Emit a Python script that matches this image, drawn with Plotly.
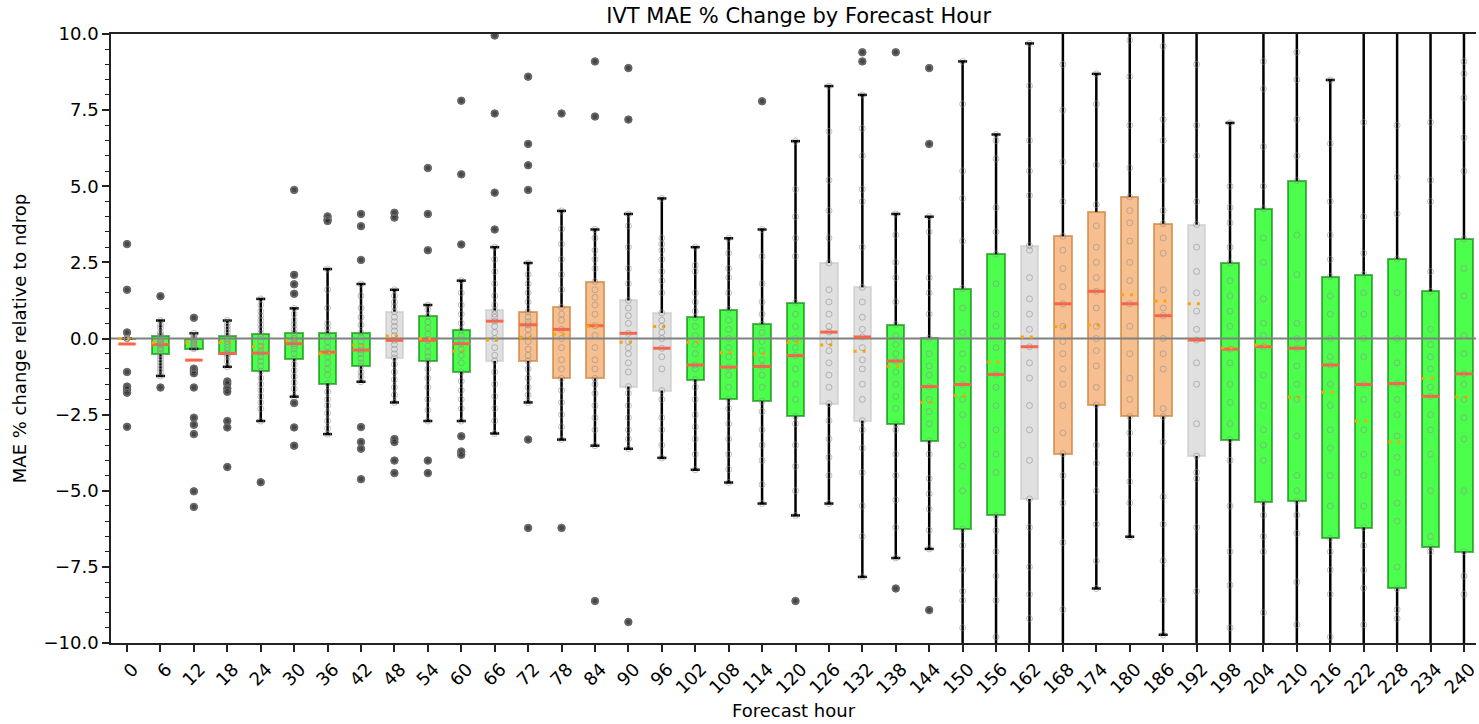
import plotly.graph_objects as go

# ---------------- data ----------------
hours = [0, 6, 12, 18, 24, 30, 36, 42, 48, 54, 60, 66, 72, 78, 84, 90, 96, 102,
         108, 114, 120, 126, 132, 138, 144, 150, 156, 162, 168, 174, 180, 186,
         192, 198, 204, 210, 216, 222, 228, 234, 240]

q1 = [0.0, -0.51, -0.34, -0.52, -1.07, -0.67, -1.48, -0.91, -0.64, -0.74, -1.10,
      -0.74, -0.74, -1.31, -1.31, -1.58, -1.71, -1.35, -1.99, -2.06, -2.55,
      -2.14, -2.70, -2.81, -3.36, -6.26, -5.81, -5.27, -3.78, -2.18, -2.56,
      -2.56, -3.86, -3.32, -5.38, -5.34, -6.56, -6.21, -8.21, -6.86, -7.00]
medians = [-0.18, -0.20, -0.71, -0.49, -0.48, -0.17, -0.45, -0.38, -0.06, -0.06,
           -0.17, 0.57, 0.45, 0.30, 0.42, 0.17, -0.32, -0.87, -0.94, -0.92, -0.56,
           0.21, 0.05, -0.74, -1.58, -1.51, -1.18, -0.27, 1.14, 1.55, 1.14, 0.75,
           -0.05, -0.35, -0.27, -0.32, -0.87, -1.51, -1.48, -1.90, -1.16]
q3 = [0.0, 0.09, -0.02, 0.09, 0.16, 0.18, 0.18, 0.19, 0.88, 0.73, 0.27, 0.92,
      0.88, 1.03, 1.87, 1.25, 0.84, 0.69, 0.95, 0.47, 1.18, 2.48, 1.68, 0.45,
      0.01, 1.64, 2.77, 3.05, 3.36, 4.16, 4.65, 3.77, 3.74, 2.48, 4.26, 5.18,
      2.03, 2.10, 2.61, 1.55, 3.27]
whisker_lo = [0.0, -1.23, -0.34, -0.93, -2.71, -1.91, -3.14, -1.42, -2.10, -2.71,
              -2.71, -3.12, -2.10, -3.32, -3.52, -3.62, -3.92, -4.31, -4.73, -5.42,
              -5.81, -5.42, -7.83, -7.21, -6.91, -11.5, -12.0, -12.0, -12.0, -8.21,
              -6.51, -9.73, -12.0, -12.0, -12.0, -12.0, -12.0, -12.0, -12.0, -12.0,
              -12.0]
whisker_hi = [0.0, 0.59, 0.17, 0.59, 1.30, 0.99, 2.28, 1.79, 1.60, 1.10, 1.90,
              3.00, 2.48, 4.19, 3.58, 4.09, 4.60, 3.00, 3.29, 3.58, 6.48, 8.29,
              8.00, 4.09, 4.00, 9.10, 6.70, 9.69, 12.0, 8.69, 11.0, 11.5, 12.0,
              7.08, 12.0, 12.0, 8.49, 12.0, 12.0, 12.0, 12.0]
means = [0.0, -0.13, -0.13, -0.13, -0.27, -0.07, -0.50, -0.21, 0.08, 0.0, -0.42,
         -0.05, 0.04, 0.14, 0.40, -0.12, 0.39, -0.12, -0.47, -0.51, -0.12, -0.21,
         -0.42, -0.91, -2.10, -1.87, -0.77, 0.05, 0.39, 0.44, 1.44, 1.23, 1.14,
         -0.30, -0.21, -1.92, -1.77, -2.71, -3.40, -1.31, -1.92]
# g = significant decrease (green), o = increase (orange), n = neutral (grey)
box_class = ['g', 'g', 'g', 'g', 'g', 'g', 'g', 'g', 'n', 'g', 'g', 'n', 'o', 'o',
             'o', 'n', 'n', 'g', 'g', 'g', 'g', 'n', 'n', 'g', 'g', 'g', 'g', 'n',
             'o', 'o', 'o', 'o', 'n', 'g', 'g', 'g', 'g', 'g', 'g', 'g', 'g']

fliers = [
    [3.1, 1.6, 0.2, -1.1, -1.58, -1.66, -1.78, -2.9],
    [1.39, -1.61],
    [0.68, -0.99, -1.07, -1.14, -1.61, -2.6, -2.83, -3.14, -5.02, -5.53],
    [-1.41, -1.49, -1.64, -1.75, -2.71, -2.92, -4.22],
    [-4.72],
    [4.88, 2.09, 1.78, 1.47, -2.12, -2.92, -3.52],
    [4.01, 3.91, 3.86],
    [4.09, 3.69, 2.58, -2.91, -3.40, -3.62, -4.62],
    [4.13, 3.97, -3.30, -3.40, -4.01, -4.42],
    [5.60, 4.09, 2.90, -4.01, -4.42],
    [7.81, 5.39, 3.09, -3.21, -3.71, -3.82],
    [9.95, 7.39, 4.79, 3.58],
    [8.60, 6.39, 5.69, 4.88, -3.32, -6.22],
    [7.39, -6.22],
    [9.10, 7.29, -8.62],
    [8.88, 7.19, -9.31],
    [],
    [],
    [],
    [7.79],
    [-8.62],
    [],
    [9.40, 9.10],
    [9.40, -8.21],
    [8.88, 6.39, -8.92],
    [], [], [], [], [], [], [], [], [], [], [], [], [], [], [], [],
]

points = [
    [0.0, 0.0, 0.0, 0.0, 0.0, 0.0],
    [0.59, 0.45, 0.35, 0.2, 0.12, 0.09, 0.05, 0.0, -0.05, -0.1, -0.15, -0.2, -0.22, -0.3, -0.35, -0.42, -0.51, -0.6, -0.7, -0.8, -0.9, -1.0, -1.1, -1.23],
    [0.17, 0.1, 0.05, 0.0, -0.02, -0.05, -0.1, -0.15, -0.2, -0.25, -0.3, -0.34],
    [0.59, 0.5, 0.4, 0.3, 0.2, 0.09, 0.0, -0.1, -0.2, -0.3, -0.4, -0.49, -0.52, -0.6, -0.75, -0.93],
    [1.3, 1.1, 0.9, 0.75, 0.6, 0.45, 0.3, 0.16, 0.05, -0.1, -0.25, -0.4, -0.48, -0.6, -0.75, -0.9, -1.07, -1.3, -1.5, -1.7, -1.9, -2.1, -2.3, -2.71],
    [0.99, 0.8, 0.6, 0.45, 0.3, 0.18, 0.1, 0.0, -0.1, -0.17, -0.25, -0.35, -0.5, -0.67, -0.85, -1.05, -1.25, -1.45, -1.65, -1.91],
    [2.28, 1.6, 1.0, 0.5, 0.35, 0.18, 0.05, -0.1, -0.3, -0.45, -0.6, -0.8, -1.0, -1.2, -1.48, -1.75, -2.0, -2.2, -2.45, -2.7, -2.95, -3.14],
    [1.79, 1.4, 1.0, 0.7, 0.45, 0.19, 0.05, -0.1, -0.25, -0.38, -0.5, -0.65, -0.8, -0.91, -1.1, -1.25, -1.42],
    [1.6, 1.4, 1.2, 1.05, 0.88, 0.7, 0.55, 0.4, 0.25, 0.1, -0.06, -0.2, -0.35, -0.5, -0.64, -0.85, -1.1, -1.35, -1.6, -1.85, -2.1],
    [1.1, 0.95, 0.73, 0.55, 0.35, 0.15, -0.06, -0.25, -0.45, -0.6, -0.74, -1.0, -1.3, -1.6, -2.0, -2.35, -2.71],
    [1.9, 1.5, 1.1, 0.8, 0.5, 0.27, 0.1, -0.05, -0.17, -0.35, -0.55, -0.8, -1.1, -1.4, -1.7, -2.0, -2.3, -2.71],
    [3.0, 2.6, 2.2, 1.8, 1.4, 1.1, 0.92, 0.8, 0.7, 0.57, 0.4, 0.2, 0.0, -0.3, -0.55, -0.74, -1.1, -1.5, -1.9, -2.3, -2.7, -3.12],
    [2.48, 2.1, 1.8, 1.5, 1.2, 0.88, 0.7, 0.55, 0.45, 0.3, 0.1, -0.1, -0.35, -0.55, -0.74, -1.0, -1.3, -1.6, -1.85, -2.1],
    [4.19, 3.6, 3.1, 2.6, 2.1, 1.6, 1.03, 0.8, 0.6, 0.3, 0.0, -0.3, -0.7, -1.0, -1.31, -1.7, -2.1, -2.5, -2.9, -3.32],
    [3.58, 3.3, 2.9, 2.6, 2.3, 1.87, 1.6, 1.35, 1.1, 0.8, 0.42, 0.1, -0.3, -0.7, -1.0, -1.31, -1.5, -1.8, -2.2, -2.6, -3.0, -3.52],
    [4.09, 3.7, 3.0, 2.3, 1.8, 1.25, 1.0, 0.75, 0.5, 0.17, -0.1, -0.3, -0.5, -0.8, -1.1, -1.58, -1.8, -2.2, -2.6, -3.0, -3.3, -3.62],
    [4.6, 3.3, 3.1, 2.9, 2.6, 2.2, 1.9, 1.5, 0.84, 0.6, 0.4, 0.2, 0.0, -0.32, -0.6, -1.0, -1.71, -2.0, -2.6, -3.0, -3.5, -3.92],
    [3.0, 2.4, 2.2, 1.5, 1.2, 0.9, 0.69, 0.4, 0.1, -0.2, -0.5, -0.87, -1.0, -1.35, -1.6, -2.0, -2.5, -2.9, -3.3, -3.8, -4.31],
    [3.29, 2.8, 2.3, 2.0, 1.5, 0.95, 0.6, 0.3, 0.0, -0.3, -0.6, -0.94, -1.2, -1.6, -1.99, -2.3, -2.8, -3.3, -3.8, -4.3, -4.73],
    [3.58, 2.7, 1.8, 1.2, 0.8, 0.47, 0.2, -0.1, -0.4, -0.7, -0.92, -1.2, -1.6, -2.06, -2.4, -3.0, -3.5, -4.0, -4.8, -5.42],
    [6.48, 4.9, 4.0, 3.3, 2.7, 1.18, 0.8, 0.4, 0.0, -0.3, -0.56, -1.0, -1.5, -2.0, -2.55, -2.8, -3.5, -4.2, -5.0, -5.81],
    [8.29, 6.8, 5.2, 4.2, 3.3, 2.48, 1.6, 1.2, 0.8, 0.4, 0.21, -0.1, -0.4, -0.8, -1.2, -1.6, -2.14, -2.7, -3.3, -3.9, -4.5, -5.42],
    [8.0, 6.9, 6.0, 4.9, 4.5, 3.0, 1.68, 1.2, 0.7, 0.3, 0.05, -0.3, -0.7, -1.0, -1.5, -2.0, -2.7, -3.0, -3.6, -4.4, -5.5, -6.5, -7.83],
    [4.09, 3.4, 2.5, 2.0, 1.2, 0.45, 0.1, -0.2, -0.5, -0.74, -1.1, -1.5, -1.9, -2.3, -2.81, -3.0, -3.8, -4.5, -5.3, -6.2, -7.21],
    [4.0, 3.5, 2.0, 1.5, 0.8, 0.01, -0.5, -0.9, -1.2, -1.58, -2.0, -2.4, -2.8, -3.36, -3.8, -4.6, -5.1, -5.6, -6.3, -6.91],
    [9.1, 7.7, 5.5, 4.6, 3.2, 1.64, 1.0, 0.2, -0.5, -1.0, -1.51, -2.0, -2.5, -3.5, -4.2, -5.0, -6.26, -6.8, -7.6, -8.3, -8.6, -9.5, -11.5],
    [6.7, 6.5, 5.9, 4.3, 3.5, 2.77, 1.8, 0.8, 0.4, -0.3, -1.18, -1.6, -2.2, -3.0, -3.8, -4.4, -5.81, -6.3, -7.0, -7.8, -8.6, -9.8, -12.0],
    [9.69, 8.3, 6.5, 5.5, 4.7, 3.05, 2.9, 2.0, 1.3, 0.8, 0.3, -0.27, -0.8, -1.3, -2.2, -3.0, -4.0, -5.27, -6.2, -7.5, -8.4, -9.2, -12.0],
    [12.0, 9.0, 7.5, 5.8, 4.5, 3.36, 2.9, 2.3, 1.7, 1.14, 0.4, -0.1, -0.5, -1.0, -1.5, -2.2, -3.1, -3.78, -4.5, -5.4, -6.7, -8.9, -12.0],
    [8.69, 7.7, 5.7, 4.4, 3.7, 3.0, 2.5, 2.0, 1.55, 1.0, 0.4, 0.0, -0.4, -0.9, -1.6, -2.18, -3.5, -4.1, -5.0, -6.1, -7.3, -8.21],
    [11.0, 9.8, 8.6, 7.0, 5.6, 4.65, 4.2, 3.8, 3.2, 2.5, 1.9, 1.14, 0.4, -0.5, -1.3, -2.0, -2.56, -3.1, -3.8, -4.7, -5.4, -6.51],
    [11.5, 9.6, 7.2, 6.5, 5.2, 4.2, 3.77, 3.3, 2.8, 1.6, 1.0, 0.75, 0.0, -0.5, -1.0, -2.3, -2.56, -3.4, -5.2, -6.1, -7.3, -8.6, -9.73],
    [12.0, 9.0, 7.0, 6.0, 4.5, 3.74, 3.0, 2.2, 1.5, 0.9, 0.3, -0.05, -0.8, -1.5, -2.8, -3.86, -4.4, -4.6, -6.2, -8.3, -12.0],
    [7.08, 5.0, 4.3, 3.8, 3.0, 2.48, 1.9, 1.4, 0.9, 0.4, -0.35, -0.8, -1.5, -2.1, -2.8, -3.32, -4.0, -5.5, -7.0, -8.1, -9.5, -12.0],
    [12.0, 9.1, 8.2, 6.3, 5.0, 4.26, 3.3, 2.5, 1.3, 0.5, 0.1, -0.27, -1.2, -2.2, -3.0, -3.5, -4.0, -5.38, -5.8, -6.5, -7.0, -9.0, -12.0],
    [12.0, 9.4, 8.5, 7.2, 6.0, 5.18, 3.4, 2.1, 0.5, 0.0, -0.32, -0.9, -1.5, -2.0, -3.2, -4.5, -5.0, -5.34, -5.8, -6.4, -8.0, -9.4, -12.0],
    [8.49, 6.4, 4.5, 3.4, 2.6, 2.03, 1.4, 0.8, 0.0, -0.6, -0.87, -1.5, -2.2, -3.0, -3.6, -4.5, -5.5, -6.56, -7.0, -7.6, -8.4, -9.8, -12.0],
    [12.0, 7.1, 4.0, 2.8, 2.1, 1.5, 0.8, 0.0, -0.6, -1.51, -2.0, -3.0, -3.8, -4.5, -5.5, -6.21, -6.8, -7.6, -8.2, -9.4, -12.0],
    [12.0, 7.0, 5.3, 4.1, 2.61, 1.5, 0.0, -0.8, -1.48, -2.0, -2.5, -3.2, -3.9, -4.4, -5.4, -6.0, -7.5, -8.21, -8.9, -9.2, -12.0],
    [12.0, 7.1, 5.2, 4.5, 2.2, 1.55, 0.3, -0.2, -0.6, -1.0, -1.6, -1.9, -2.5, -3.0, -3.8, -5.0, -6.5, -6.86, -7.0, -12.0],
    [12.0, 9.1, 8.7, 7.9, 6.6, 5.5, 3.27, 2.3, 1.4, 0.1, -0.5, -1.16, -1.5, -2.0, -2.6, -3.3, -5.0, -7.0, -7.8, -8.4, -12.0],
]

# ---------------- styles ----------------
FILL = {'g': 'rgba(0,255,0,0.7)', 'o': 'rgba(244,164,96,0.7)', 'n': 'rgba(211,211,211,0.7)'}
EDGE = {'g': 'rgba(0,128,0,0.6)', 'o': 'rgba(205,133,63,0.7)', 'n': 'rgba(200,200,200,0.6)'}
BOX_W = 0.52
CAP_W = 0.27
FONT = 'DejaVu Sans'

idx = list(range(len(hours)))

fig = go.Figure()

# boxes
fig.add_trace(go.Bar(
    x=idx, base=q1, y=[b - a for a, b in zip(q1, q3)], width=BOX_W,
    marker=dict(color=[FILL[c] for c in box_class],
                line=dict(color=[EDGE[c] for c in box_class], width=2)),
    hoverinfo='skip'))

# whiskers
wx, wy = [], []
for i in idx:
    wx += [i, i, None, i, i, None]
    wy += [q3[i], whisker_hi[i], None, q1[i], whisker_lo[i], None]
fig.add_trace(go.Scatter(x=wx, y=wy, mode='lines', line=dict(color='black', width=2.5),
                         hoverinfo='skip'))

# caps
cx, cy = [], []
for i in idx:
    cx += [i - CAP_W / 2, i + CAP_W / 2, None, i - CAP_W / 2, i + CAP_W / 2, None]
    cy += [whisker_hi[i], whisker_hi[i], None, whisker_lo[i], whisker_lo[i], None]
fig.add_trace(go.Scatter(x=cx, y=cy, mode='lines', line=dict(color='black', width=2.5),
                         hoverinfo='skip'))

# zero reference line
fig.add_trace(go.Scatter(x=[idx[0] - 1, idx[-1] + 1], y=[0, 0], mode='lines',
                         line=dict(color='#808080', width=2), hoverinfo='skip'))

# medians
mx, my = [], []
for i in idx:
    mx += [i - BOX_W / 2, i + BOX_W / 2, None]
    my += [medians[i], medians[i], None]
fig.add_trace(go.Scatter(x=mx, y=my, mode='lines', line=dict(color='#ff6347', width=3),
                         hoverinfo='skip'))

# means
ax_, ay_ = [], []
for i in idx:
    ax_ += [i - BOX_W / 2, i + BOX_W / 2, None]
    ay_ += [means[i], means[i], None]
fig.add_trace(go.Scatter(x=ax_, y=ay_, mode='lines',
                         line=dict(color='#ffa500', width=3, dash='3px,6px'),
                         hoverinfo='skip'))

# outliers
fx, fy = [], []
for i in idx:
    fx += [i] * len(fliers[i])
    fy += fliers[i]
fig.add_trace(go.Scatter(x=fx, y=fy, mode='markers',
                         marker=dict(color='rgba(40,40,40,0.85)', size=7.5,
                                     line=dict(color='rgba(90,90,90,0.8)', width=1)),
                         hoverinfo='skip'))

# individual values (hollow)
px_, py_ = [], []
for i in idx:
    vals = points[i] + fliers[i]
    px_ += [i] * len(vals)
    py_ += vals
fig.add_trace(go.Scatter(x=px_, y=py_, mode='markers',
                         marker=dict(symbol='circle-open', color='rgba(140,140,140,0.55)',
                                     size=6, line=dict(width=1)),
                         hoverinfo='skip'))

fig.update_layout(
    width=1479, height=724,
    margin=dict(l=111, r=0, t=34, b=81),
    paper_bgcolor='white', plot_bgcolor='white',
    showlegend=False,
    font=dict(family=FONT, size=18, color='black'),
    title=dict(text='IVT MAE % Change by Forecast Hour', x=0.54, xanchor='center',
               y=0.978, yanchor='middle', font=dict(family=FONT, size=21)),
    bargap=0,
)
fig.update_xaxes(
    range=[-0.48, 40.36], tickmode='array', tickvals=idx,
    ticktext=[str(h) for h in hours], tickangle=-45, ticklabelshift=6,
    ticklabeloverflow='allow',
    ticks='outside', ticklen=7, tickwidth=1.5, tickcolor='#222',
    showline=True, linecolor='#222', linewidth=1.5, mirror=True,
    showgrid=False, zeroline=False,
    tickfont=dict(family=FONT, size=18),
    title=dict(text='Forecast hour', font=dict(family=FONT, size=18), standoff=8),
)
fig.update_yaxes(
    range=[-10, 10], tick0=0, dtick=2.5, tickformat='.1f',
    ticks='outside', ticklen=7, tickwidth=1.5, tickcolor='#222',
    minor=dict(dtick=0.5, ticks='outside', ticklen=4, tickwidth=1.2, tickcolor='#222',
               showgrid=False),
    showline=True, linecolor='#222', linewidth=1.5, mirror=False,
    showgrid=False, zeroline=False,
    tickfont=dict(family=FONT, size=18),
    title=dict(text='MAE % change relative to ndrop', font=dict(family=FONT, size=18),
               standoff=12),
)

fig.write_html('out.html')
